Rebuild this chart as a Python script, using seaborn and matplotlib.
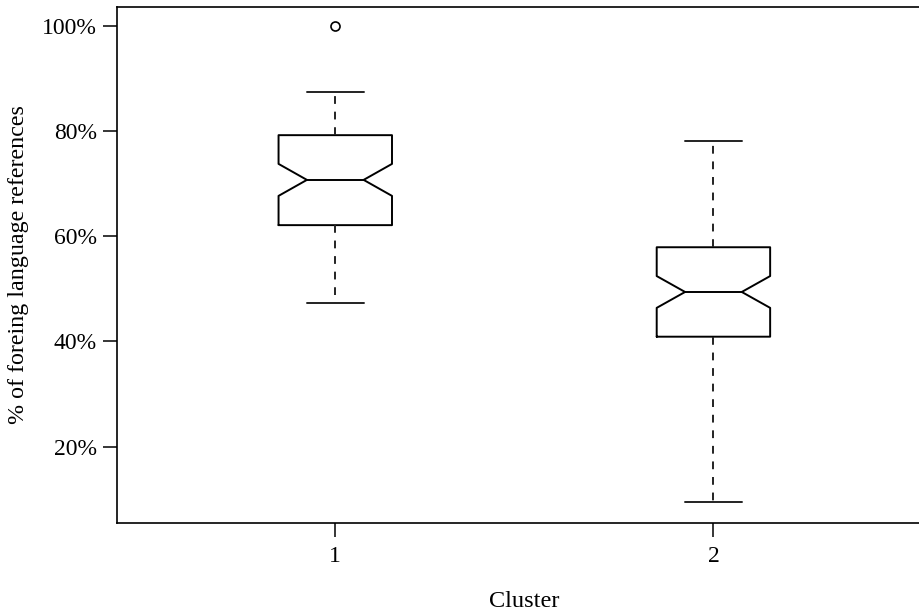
import numpy as np
import pandas as pd
import matplotlib
matplotlib.use("Agg")
import matplotlib.pyplot as plt
import seaborn as sns

# ---- data (percent of foreign language references) ----
cluster_names = ["1", "2"]
cluster1_values = [
    47.3, 49.8, 51.2, 52.5, 53.4, 54.6, 55.3, 56.1, 56.8, 57.4, 58.0, 58.6, 59.1,
    59.7, 60.2, 60.6, 61.0, 61.4, 61.8,
    62.1, 62.1,
    62.6, 63.0, 63.5, 64.0, 64.4, 64.9, 65.3, 65.8, 66.3, 66.7, 67.2, 67.8, 68.4,
    68.9, 69.5, 70.0, 70.4,
    70.7, 70.7,
    71.1, 71.6, 72.0, 72.5, 73.0, 73.4, 73.9, 74.4, 74.8, 75.3, 75.9, 76.4, 76.9,
    77.4, 77.9, 78.4, 78.8,
    79.2, 79.2,
    79.6, 80.0, 80.3, 80.7, 81.0, 81.4, 81.8, 82.1, 82.5, 82.9, 83.3, 83.8, 84.3,
    84.9, 85.5, 86.1, 86.8,
    87.4,
    100.0,
]
cluster2_values = [
    9.5, 14.8, 19.6, 23.4, 26.1, 28.5, 30.2, 31.8, 33.1, 34.3, 35.2, 36.0, 36.8,
    37.5, 38.1, 38.7, 39.3, 39.9, 40.4,
    40.9, 40.9,
    41.4, 41.9, 42.3, 42.8, 43.3, 43.7, 44.2, 44.7, 45.1, 45.6, 46.1, 46.6, 47.2,
    47.7, 48.3, 48.8, 49.1,
    49.4, 49.4,
    49.8, 50.3, 50.8, 51.3, 51.8, 52.3, 52.8, 53.3, 53.8, 54.3, 54.8, 55.3, 55.8,
    56.3, 56.8, 57.2, 57.6,
    57.9, 57.9,
    58.4, 58.9, 59.5, 60.1, 60.8, 61.5, 62.3, 63.1, 64.0, 65.0, 66.1, 67.3, 68.6,
    70.0, 71.5, 73.1, 74.8, 76.5, 78.1,
]
y_ticks = [20, 40, 60, 80, 100]
y_tick_labels = ["20%", "40%", "60%", "80%", "100%"]

df1 = pd.DataFrame({"Cluster": cluster_names[0], "pct": cluster1_values})
df2 = pd.DataFrame({"Cluster": cluster_names[1], "pct": cluster2_values})

# ---- style ----
sns.set_style("ticks")
plt.rcParams["font.family"] = ["Liberation Serif", "DejaVu Serif"]
plt.rcParams["axes.linewidth"] = 1.2

W, H = 920, 615
fig = plt.figure(figsize=(W / 100, H / 100), dpi=100)
left_px, right_px, top_px, bottom_px = 116.7, 932.0, 7.3, 522.7
ax = fig.add_axes([left_px / W, 1 - bottom_px / H,
                   (right_px - left_px) / W, (bottom_px - top_px) / H])

common = dict(
    x="Cluster", y="pct", order=cluster_names, notch=True, width=0.30,
    fill=False, color="black", linewidth=1.4, ax=ax,
    whiskerprops=dict(linestyle=(0, (4, 4)), color="#222222"),
    capprops=dict(color="#222222"),
    flierprops=dict(marker="o", markersize=6.5, markeredgewidth=1.2,
                    markeredgecolor="black", markerfacecolor="none"),
)
sns.boxplot(data=df1, whis=1.0, **common)
sns.boxplot(data=df2, whis=2.0, **common)

ax.set_xlim(-0.578, 1.578)
ax.set_ylim(5.55, 103.5)
ax.set_yticks(y_ticks)
ax.set_yticklabels(y_tick_labels)

for s in ["left", "right", "top", "bottom"]:
    ax.spines[s].set_visible(True)
    ax.spines[s].set_color("black")

ax.tick_params(axis="both", length=10, width=1.1, color="black",
               labelsize=17, labelcolor="black")
ax.tick_params(axis="y", pad=4.3)
ax.tick_params(axis="x", pad=7)

ax.set_xlabel("Cluster", fontsize=17.5, labelpad=17, color="black")
ax.set_ylabel("% of foreing language references", fontsize=17.3, labelpad=9,
              color="black")

fig.savefig("out.png", dpi=100)
